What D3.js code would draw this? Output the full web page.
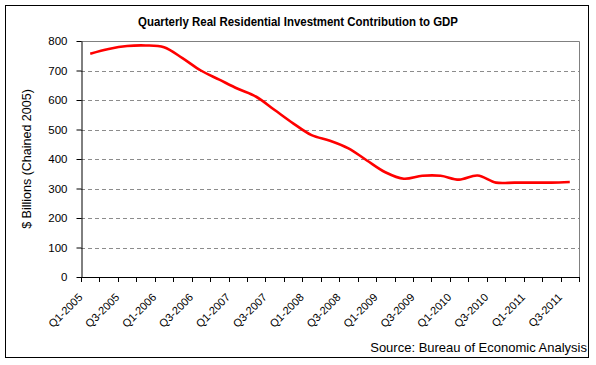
<!DOCTYPE html>
<html>
<head>
<meta charset="utf-8">
<script src="https://cdn.jsdelivr.net/npm/d3@7/dist/d3.min.js"></script>
<style>
  html, body { margin: 0; padding: 0; background: #fff; }
  svg { display: block; }
  .reg { font-family: "Liberation Sans", Arial, sans-serif; }
</style>
</head>
<body>
<svg id="chart" width="596" height="365"></svg>
<script>
const quarters = ["Q1-2005","Q2-2005","Q3-2005","Q4-2005","Q1-2006","Q2-2006","Q3-2006","Q4-2006",
  "Q1-2007","Q2-2007","Q3-2007","Q4-2007","Q1-2008","Q2-2008","Q3-2008","Q4-2008",
  "Q1-2009","Q2-2009","Q3-2009","Q4-2009","Q1-2010","Q2-2010","Q3-2010","Q4-2010",
  "Q1-2011","Q2-2011","Q3-2011"];
const investment = [757, 773, 783, 785, 779, 742, 700, 669, 638, 611, 566, 521, 481, 462, 436, 395,
  355, 333, 343, 343, 330, 344, 320, 320, 320, 320, 322];
const yTicks = [0, 100, 200, 300, 400, 500, 600, 700, 800];
const xLabelEvery = 2;
const titleText = "Quarterly Real Residential Investment Contribution to GDP";
const yLabelText = "$ Billions (Chained 2005)";
const sourceText = "Source: Bureau of Economic Analysis";

const svg = d3.select("#chart");
const m = { left: 81, right: 579, top: 41, bottom: 277 };

// outer frame
svg.append("rect").attr("x", 5.5).attr("y", 5.5).attr("width", 583).attr("height", 352)
  .attr("fill", "#fff").attr("stroke", "#000").attr("stroke-width", 1);

const x = d3.scaleBand().domain(quarters).range([m.left, m.right]).paddingInner(0).paddingOuter(0);
const y = d3.scaleLinear().domain([0, 800]).range([m.bottom, m.top]);

// gridlines
svg.append("g").selectAll("line").data(yTicks.filter(d => d > 0 && d < 800)).join("line")
  .attr("x1", m.left).attr("x2", m.right)
  .attr("y1", d => Math.round(y(d)) + 0.5).attr("y2", d => Math.round(y(d)) + 0.5)
  .attr("stroke", "#8c8c8c").attr("stroke-dasharray", "4,3").attr("stroke-width", 1);

// plot border top/right
svg.append("path")
  .attr("d", `M${m.left},${Math.round(y(800)) + 0.5}H${m.right + 0.5}V${m.bottom}`)
  .attr("fill", "none").attr("stroke", "#808080").attr("stroke-width", 1);

// y axis
const yAxis = d3.axisLeft(y).tickValues(yTicks).tickSize(5).tickPadding(9).tickSizeOuter(0);
const gy = svg.append("g").attr("transform", `translate(${m.left + 0.5},0)`).call(yAxis);
gy.select(".domain").attr("stroke", "#000");
gy.selectAll(".tick line").attr("stroke", "#000");
gy.selectAll(".tick text").attr("class", "reg").attr("font-size", 11.5).attr("fill", "#000");

// x axis with ticks at category boundaries
const boundaries = d3.range(quarters.length + 1).map(i => m.left + i * x.bandwidth());
const gx = svg.append("g");
gx.append("line").attr("x1", m.left).attr("x2", m.right + 1)
  .attr("y1", m.bottom + 0.5).attr("y2", m.bottom + 0.5).attr("stroke", "#000");
gx.selectAll("line.tk").data(boundaries).join("line").attr("class", "tk")
  .attr("x1", d => Math.round(d) + 0.5).attr("x2", d => Math.round(d) + 0.5)
  .attr("y1", m.bottom).attr("y2", m.bottom + 5).attr("stroke", "#000");

gx.selectAll("text").data(quarters.filter((q, i) => i % xLabelEvery === 0)).join("text")
  .attr("class", "reg")
  .attr("font-size", 11)
  .attr("text-anchor", "end")
  .attr("transform", d => `translate(${x(d) + x.bandwidth() / 2 - 7},${m.bottom + 21}) rotate(-45)`)
  .text(d => d);

// line
const line = d3.line()
  .x((d, i) => x(quarters[i]) + x.bandwidth() / 2)
  .y(d => y(d))
  .curve(d3.curveCatmullRom.alpha(0.5));
svg.append("path").datum(investment).attr("d", line)
  .attr("fill", "none").attr("stroke", "#ff0000").attr("stroke-width", 2.6)
  .attr("stroke-linejoin", "round");

// title
svg.append("text").attr("class", "reg").attr("x", 298).attr("y", 26)
  .attr("text-anchor", "middle").attr("font-size", 12).attr("font-weight", "bold")
  .attr("textLength", 320).attr("lengthAdjust", "spacingAndGlyphs")
  .text(titleText);

// y label
svg.append("text").attr("class", "reg")
  .attr("transform", `translate(31,${(m.top + m.bottom) / 2}) rotate(-90)`)
  .attr("text-anchor", "middle").attr("font-size", 12.5)
  .text(yLabelText);

// source
svg.append("text").attr("class", "reg").attr("x", 587).attr("y", 352)
  .attr("text-anchor", "end").attr("font-size", 13)
  .text(sourceText);
</script>
</body>
</html>
